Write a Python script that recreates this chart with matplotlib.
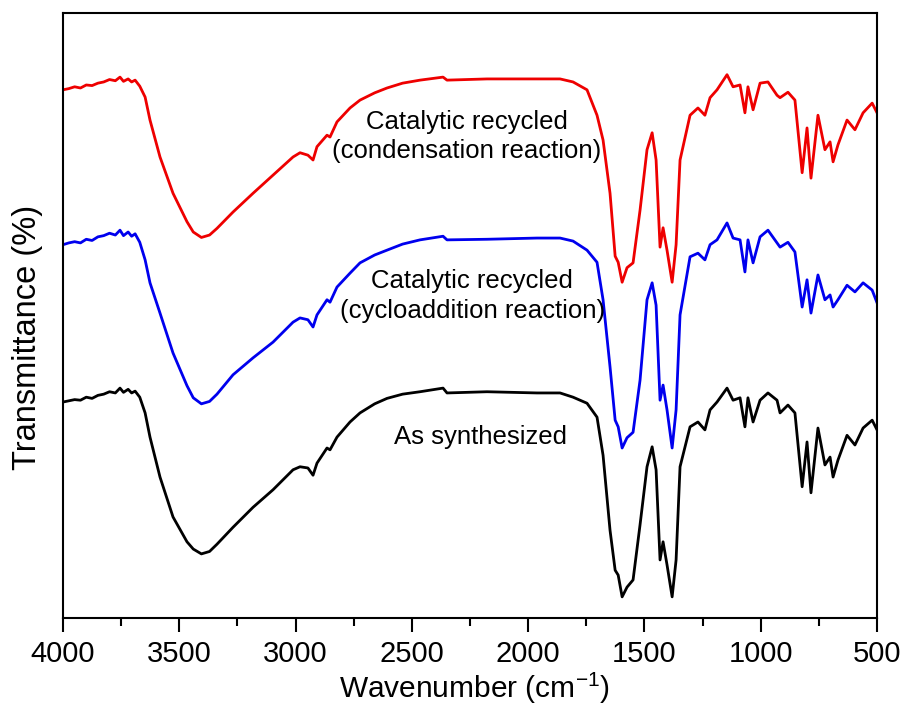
import matplotlib
matplotlib.use("Agg")
import matplotlib.pyplot as plt
from matplotlib.ticker import MultipleLocator

plt.rcParams["font.family"] = ["Liberation Sans", "DejaVu Sans"]
plt.rcParams["mathtext.default"] = "regular"

# FTIR spectra, wavenumber in cm-1 (shared grid for all three samples)
wavenumber = [
    4000, 3975, 3950, 3925, 3900, 3875, 3850, 3825, 3800, 3775, 3755, 3740,
    3720, 3705, 3690, 3670, 3647, 3626, 3583, 3527, 3467, 3440, 3405, 3370, 3338,
    3269, 3183, 3097, 3011, 2981, 2947, 2925, 2908, 2865, 2852, 2822, 2766,
    2723, 2660, 2607, 2540, 2465, 2366, 2349, 2177, 1962, 1863, 1807, 1747, 1704, 1678,
    1648, 1626, 1613, 1596, 1575, 1549, 1519, 1489, 1467, 1450, 1433, 1420,
    1403, 1381, 1364, 1347, 1304, 1270, 1240, 1218, 1188, 1145, 1119, 1089,
    1068, 1055, 1033, 1003, 969, 930, 917, 883, 853, 822, 801, 784, 754, 724,
    702, 689, 668, 629, 595, 560, 521, 500,
]

as_synthesized = [
    35.7, 35.9, 36.1, 36.0, 36.5, 36.3, 36.8, 37.0, 37.4, 37.2, 38.0, 37.3,
    37.8, 37.2, 37.5, 36.5, 33.9, 29.9, 23.3, 16.7, 12.6, 11.4, 10.6, 11.0, 12.2,
    15.0, 18.3, 21.2, 24.5, 25.0, 24.8, 23.6, 25.6, 28.1, 27.8, 29.9, 32.4,
    33.9, 35.4, 36.3, 37.0, 37.4, 38.0, 37.2, 37.4, 37.2, 37.2, 36.5, 35.5, 33.2, 26.9,
    14.5, 7.9, 7.1, 3.5, 5.1, 6.3, 15.4, 25.0, 28.3, 24.5, 9.6, 12.6,
    8.8, 3.5, 9.6, 25.0, 31.6, 32.4, 31.1, 34.4, 35.7, 38.0, 36.0, 36.4,
    31.6, 36.4, 32.4, 36.0, 37.2, 36.0, 33.9, 35.2, 33.9, 21.7, 29.1, 20.7, 31.4, 25.3,
    26.6, 23.3, 26.1, 30.2, 28.6, 31.4, 32.7, 31.1,
]

cycloaddition = [
    61.7, 62.0, 62.2, 62.0, 62.6, 62.4, 63.0, 63.2, 63.6, 63.3, 64.1, 63.2,
    63.8, 63.1, 63.5, 62.1, 59.2, 55.4, 50.4, 43.8, 38.4, 36.4, 35.4, 35.8, 37.0,
    40.2, 43.0, 45.6, 48.9, 49.6, 49.3, 48.1, 50.1, 52.6, 52.2, 54.7, 57.0,
    58.7, 60.0, 60.8, 61.8, 62.5, 63.1, 62.5, 62.6, 62.8, 62.8, 62.3, 60.8, 58.8, 52.6,
    41.5, 32.7, 31.6, 28.1, 29.8, 30.7, 39.3, 52.6, 55.4, 51.7, 36.0, 38.5,
    34.4, 28.1, 34.4, 50.1, 59.7, 60.3, 59.2, 61.7, 62.5, 65.3, 62.8, 62.5,
    57.2, 62.5, 58.7, 63.0, 64.1, 62.0, 61.3, 62.1, 60.5, 51.4, 55.9, 50.4, 56.7, 52.6,
    53.4, 51.4, 52.6, 55.0, 53.9, 55.4, 54.2, 52.1,
]

condensation = [
    87.3, 87.5, 87.8, 87.6, 88.1, 88.0, 88.4, 88.6, 89.0, 88.8, 89.4, 88.7,
    89.1, 88.6, 88.9, 87.9, 86.1, 82.3, 76.2, 70.2, 65.5, 63.8, 62.9, 63.3, 64.4,
    67.1, 70.2, 73.2, 76.2, 76.9, 76.5, 75.7, 77.9, 79.8, 79.5, 82.0, 84.3,
    85.6, 86.8, 87.6, 88.4, 88.9, 89.4, 88.9, 89.1, 89.1, 89.1, 88.6, 87.3, 83.1, 79.0,
    70.2, 59.8, 58.8, 55.5, 57.9, 58.7, 67.4, 77.4, 80.2, 75.7, 61.3, 64.5,
    60.8, 55.5, 61.7, 75.7, 83.1, 84.3, 83.1, 86.0, 87.3, 89.8, 87.8, 88.1,
    83.5, 87.8, 84.0, 88.4, 88.6, 86.4, 86.0, 86.9, 85.6, 73.6, 81.0, 72.7, 83.1, 77.4,
    78.7, 75.4, 78.2, 82.3, 80.7, 83.5, 85.1, 83.5,
]

fig = plt.figure(figsize=(9.08, 7.13), dpi=100)
ax = fig.add_axes([0.0694, 0.1332, 0.8965, 0.8486])

ax.plot(wavenumber, as_synthesized, color="black", linewidth=2.0)
ax.plot(wavenumber, cycloaddition, color="#0000ee", linewidth=2.0)
ax.plot(wavenumber, condensation, color="#ee0000", linewidth=2.0)

ax.text(2263, 79.6, "Catalytic recycled\n(condensation reaction)", ha="center", va="center",
        fontsize=18.5, linespacing=1.3)
ax.text(2241, 53.2, "Catalytic recycled\n(cycloaddition reaction)", ha="center", va="center",
        fontsize=18.5, linespacing=1.3)
ax.text(2207, 29.9, "As synthesized", ha="center", va="center", fontsize=18.5)

ax.set_xlim(4000, 500)
ax.set_ylim(0, 100)
ax.xaxis.set_major_locator(MultipleLocator(500))
ax.xaxis.set_minor_locator(MultipleLocator(250))
ax.tick_params(axis="x", which="major", direction="out", length=10, width=1.5,
               labelsize=21, pad=6)
ax.tick_params(axis="x", which="minor", direction="out", length=6, width=1.5)
ax.set_yticks([])
for spine in ax.spines.values():
    spine.set_linewidth(1.5)

ax.set_xlabel("Wavenumber (cm$^{-1}$)", fontsize=21.5)
ax.set_ylabel("Transmittance (%)", fontsize=23.5)
ax.xaxis.set_label_coords(0.505, -0.088)
ax.yaxis.set_label_coords(-0.025, 0.463)

fig.savefig("out.png", dpi=100)
